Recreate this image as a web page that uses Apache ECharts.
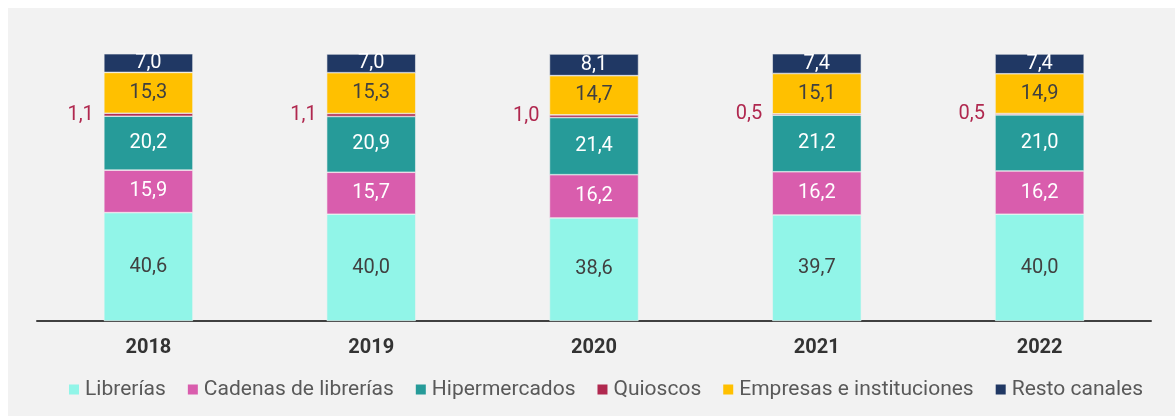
<!DOCTYPE html>
<html>
<head>
<meta charset="utf-8">
<script src="https://cdn.jsdelivr.net/npm/echarts@6/dist/echarts.min.js"></script>
<style>
  html, body { margin: 0; padding: 0; background: #fff; }
  #chart { position: absolute; left: 8px; top: 8px; width: 1167px; height: 408px; background: #f2f2f2; }
</style>
</head>
<body>
<div id="chart"></div>
<script>
// años
const years = ['2018', '2019', '2020', '2021', '2022']
// cuota por canal (%)
const librerias = [40.6, 40.0, 38.6, 39.7, 40.0]
const cadenas = [15.9, 15.7, 16.2, 16.2, 16.2]
const hipermercados = [20.2, 20.9, 21.4, 21.2, 21.0]
const quioscos = [1.1, 1.1, 1.0, 0.5, 0.5]
const empresas = [15.3, 15.3, 14.7, 15.1, 14.9]
const resto = [7.0, 7.0, 8.1, 7.4, 7.4]

const fmt = p => p.value.toFixed(1).replace('.', ',')

function mkSeries (name, data, color, labelColor, labelPos) {
  return {
    name: name,
    type: 'bar',
    stack: 'total',
    data: data,
    barWidth: '40%',
    itemStyle: { color: color, borderColor: '#f2f2f2', borderWidth: 0.6 },
    label: {
      show: true,
      position: labelPos || 'inside',
      distance: 10,
      color: labelColor,
      fontSize: 20,
      fontFamily: 'Roboto',
      formatter: fmt
    }
  }
}

const chart = echarts.init(document.getElementById('chart'))
chart.setOption({
  animation: false,
  backgroundColor: '#f2f2f2',
  textStyle: { fontFamily: 'Roboto' },
  grid: { left: 29, right: 24, top: 46, bottom: 95 },
  legend: {
    bottom: 11,
    left: 54,
    itemWidth: 12,
    itemHeight: 12,
    itemGap: 20,
    icon: 'rect',
    textStyle: { color: '#595959', fontSize: 21, fontFamily: 'Roboto' },
    data: ['Librerías', 'Cadenas de librerías', 'Hipermercados', 'Quioscos', 'Empresas e instituciones', 'Resto canales']
  },
  xAxis: {
    type: 'category',
    data: years,
    axisLine: { lineStyle: { color: '#404040', width: 2 } },
    axisTick: { show: false },
    axisLabel: { color: '#333', fontSize: 20, fontWeight: 'bold', margin: 17 }
  },
  yAxis: {
    type: 'value',
    min: 0,
    max: 100,
    show: false
  },
  series: [
    mkSeries('Librerías', librerias, '#91f5e8', '#404040'),
    mkSeries('Cadenas de librerías', cadenas, '#d95dad', '#fff'),
    mkSeries('Hipermercados', hipermercados, '#269b99', '#fff'),
    mkSeries('Quioscos', quioscos, '#b0284f', '#b0284f', 'left'),
    mkSeries('Empresas e instituciones', empresas, '#ffc000', '#404040'),
    mkSeries('Resto canales', resto, '#203864', '#fff')
  ]
})
</script>
</body>
</html>
